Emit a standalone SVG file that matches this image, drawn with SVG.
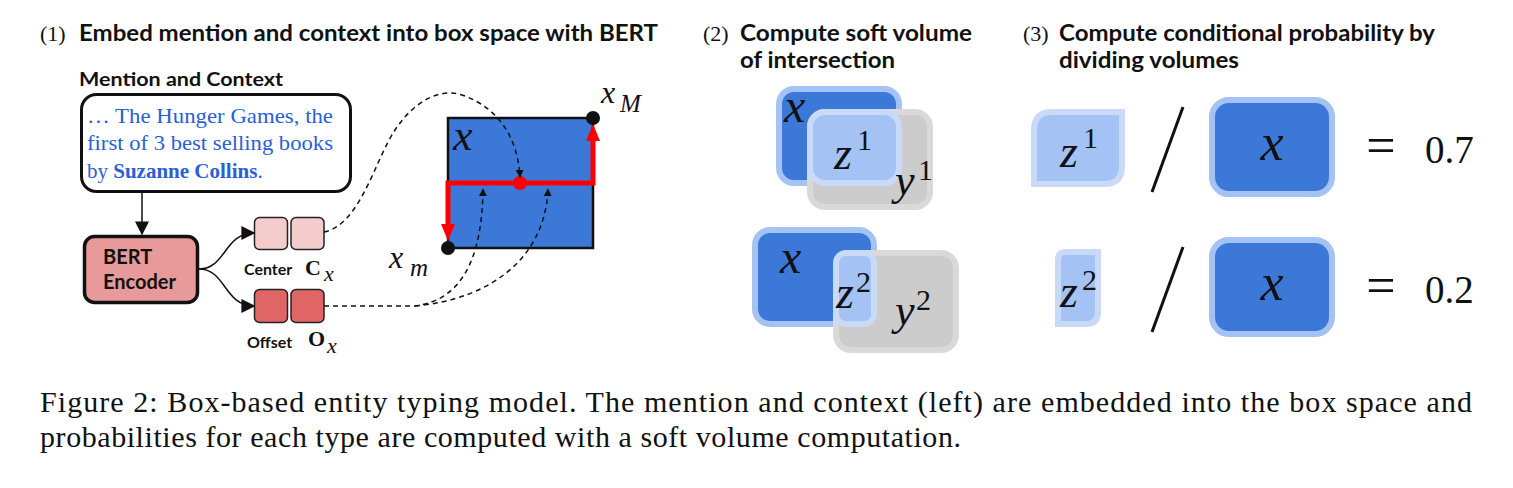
<svg xmlns="http://www.w3.org/2000/svg" width="1513" height="488" viewBox="0 0 1513 488">
<defs>
<style>
.h{font-family:Lato,"Liberation Sans",sans-serif;font-weight:bold;fill:#111}
.num{font-family:"Liberation Serif",serif;fill:#111}
.m{font-family:"Liberation Serif",serif;font-style:italic;fill:#111}
.r{font-family:"Liberation Serif",serif;fill:#111}
.bt{font-family:"Liberation Serif",serif;fill:#2a5fd6;font-size:21px}
.dash{fill:none;stroke:#111;stroke-width:1.5;stroke-dasharray:5,4}
.xb{fill:#3c78d8;stroke:#a4c2f4;stroke-width:6}
.yb{fill:#cccccc;stroke:#d9d9d9;stroke-width:6}
.zb{fill:#a4c2f4;stroke:#c9daf8;stroke-width:6}
.cap{font-family:"Liberation Serif",serif;font-size:30px;fill:#111}
</style>
<marker id="ah" viewBox="0 0 10 10" refX="9" refY="5" markerWidth="8" markerHeight="8" markerUnits="userSpaceOnUse" orient="auto"><path d="M0,0 L10,5 L0,10 Z" fill="#111"/></marker>
<marker id="ahb" viewBox="0 0 10 10" refX="9" refY="5" markerWidth="14" markerHeight="14" markerUnits="userSpaceOnUse" orient="auto"><path d="M0,0 L10,5 L0,10 Z" fill="#111"/></marker>
</defs>
<rect width="1513" height="488" fill="#fff"/>

<g id="titles">
<text class="num" x="40" y="41" font-size="22">(1)</text>
<text class="h" x="79" y="41" font-size="22" textLength="579" lengthAdjust="spacingAndGlyphs">Embed mention and context into box space with BERT</text>
<text class="num" x="703" y="41" font-size="22">(2)</text>
<text class="h" x="740" y="41" font-size="22" textLength="232" lengthAdjust="spacingAndGlyphs">Compute soft volume</text>
<text class="h" x="740" y="68" font-size="22" textLength="155" lengthAdjust="spacingAndGlyphs">of intersection</text>
<text class="num" x="1023" y="41" font-size="22">(3)</text>
<text class="h" x="1059" y="41" font-size="22" textLength="376" lengthAdjust="spacingAndGlyphs">Compute conditional probability by</text>
<text class="h" x="1059" y="68" font-size="22" textLength="180" lengthAdjust="spacingAndGlyphs">dividing volumes</text>
</g>

<g id="context">
<text class="h" x="79" y="86" font-size="19" textLength="204" lengthAdjust="spacingAndGlyphs">Mention and Context</text>
<rect x="81.5" y="94.5" width="269" height="97" rx="15" fill="#fff" stroke="#111" stroke-width="3"/>
<text class="bt" x="87" y="123" textLength="246" lengthAdjust="spacingAndGlyphs">… The Hunger Games, the</text>
<text class="bt" x="87" y="150" textLength="246" lengthAdjust="spacingAndGlyphs">first of 3 best selling books</text>
<text class="bt" x="87" y="178">by <tspan font-weight="bold">Suzanne Collins</tspan>.</text>
</g>

<g id="bert">
<rect x="84.5" y="236.5" width="113" height="66" rx="10" fill="#e89a9a" stroke="#111" stroke-width="3.5"/>
<text class="h" x="103" y="264" font-size="20">BERT</text>
<text class="h" x="103" y="289" font-size="20">Encoder</text>
</g>

<g id="center">
<rect x="254.5" y="217.5" width="33" height="32" rx="5" fill="#f4cccc" stroke="#222" stroke-width="1.5"/>
<rect x="291" y="217.5" width="33" height="32" rx="5" fill="#f4cccc" stroke="#222" stroke-width="1.5"/>
<text class="h" x="244" y="275" font-size="16">Center</text>
<text class="r" x="305" y="275" font-size="22" font-weight="bold">C</text>
<text class="m" x="324" y="281" font-size="22">x</text>
</g>

<g id="offset">
<rect x="254.5" y="289.5" width="33" height="33" rx="5" fill="#e06666" stroke="#222" stroke-width="1.5"/>
<text class="h" x="247" y="348" font-size="16">Offset</text>
<rect x="291" y="289.5" width="33" height="33" rx="5" fill="#e06666" stroke="#222" stroke-width="1.5"/>
<text class="r" x="308" y="346" font-size="22" font-weight="bold">O</text>
<text class="m" x="327" y="353" font-size="22">x</text>
</g>

<g id="boxspace">
<rect x="448" y="118" width="145" height="130" fill="#3c78d8" stroke="#111" stroke-width="2.5"/>
<text class="m" x="453" y="150" font-size="44">x</text>
<path d="M448,226 L448,183 L593,183 L593,138" fill="none" stroke="#ff0000" stroke-width="5"/>
<polygon points="441,224 455,224 448,241" fill="#ff0000"/>
<polygon points="586,141 600,141 593,124" fill="#ff0000"/>
<circle cx="520" cy="183" r="7" fill="#ff0000"/>
<circle cx="448" cy="248" r="7" fill="#111"/>
<circle cx="593" cy="118" r="7" fill="#111"/>
<text class="m" x="601" y="103" font-size="32">x</text>
<text class="m" x="620" y="112" font-size="25">M</text>
<text class="m" x="389" y="268" font-size="32">x</text>
<text class="m" x="410" y="276" font-size="25">m</text>
</g>

<g id="connectors">
<line x1="142" y1="193" x2="142" y2="234" stroke="#111" stroke-width="1.5" marker-end="url(#ahb)"/>
<path d="M199,269 C226,269 224,233 254,233" fill="none" stroke="#111" stroke-width="1.5" marker-end="url(#ahb)"/>
<path d="M199,269 C226,269 224,306 254,306" fill="none" stroke="#111" stroke-width="1.5" marker-end="url(#ahb)"/>
<path class="dash" d="M324,232 C360,225 375,160 395,130 C415,100 440,88 462,95 C500,108 518,140 520,177" marker-end="url(#ah)"/>
<path class="dash" d="M324,306 L415,306 C460,300 482,262 483,189" marker-end="url(#ah)"/>
<path class="dash" d="M415,306 C485,300 545,262 548,189" marker-end="url(#ah)"/>
</g>

<g id="intersect1">
<rect class="xb" x="779" y="89" width="120" height="94" rx="15"/>
<rect class="yb" x="810" y="112" width="120" height="95" rx="15"/>
<rect class="zb" x="810" y="112" width="89" height="71" rx="15"/>
<text class="m" x="784" y="122" font-size="48">x</text>
<text class="m" x="834" y="169" font-size="46">z</text>
<text class="r" x="857" y="150" font-size="30">1</text>
<text class="m" x="895" y="195" font-size="44">y</text>
<text class="r" x="918" y="180" font-size="30">1</text>
</g>

<g id="intersect2">
<rect class="xb" x="755" y="230" width="119" height="94" rx="15"/>
<rect class="yb" x="836" y="253" width="120" height="97" rx="15"/>
<rect class="zb" x="836" y="253" width="38" height="71" rx="10"/>
<text class="m" x="780" y="273" font-size="48">x</text>
<text class="m" x="836" y="308" font-size="46">z</text>
<text class="r" x="856" y="292" font-size="30">2</text>
<text class="m" x="895" y="325" font-size="44">y</text>
<text class="r" x="916" y="310" font-size="30">2</text>
</g>

<g id="ratio1">
<path class="zb" d="M1034,184 L1034,130 Q1034,112 1052,112 L1122,112 L1122,166 Q1122,184 1104,184 Z"/>
<text class="m" x="1060" y="167" font-size="46">z</text>
<text class="r" x="1083" y="148" font-size="30">1</text>
<line x1="1152" y1="192" x2="1183" y2="107" stroke="#111" stroke-width="3"/>
<rect class="xb" x="1212" y="100" width="120" height="94" rx="17"/>
<text class="m" x="1272" y="160" font-size="52" text-anchor="middle">x</text>
<text class="r" x="1381" y="163" font-size="52" text-anchor="middle">=</text>
<text class="r" x="1425" y="163" font-size="39">0.7</text>
</g>

<g id="ratio2">
<path class="zb" d="M1058,324 L1058,260 Q1058,252 1066,252 L1098,252 L1098,312 Q1098,324 1086,324 Z"/>
<text class="m" x="1060" y="307" font-size="46">z</text>
<text class="r" x="1082" y="290" font-size="30">2</text>
<line x1="1152" y1="332" x2="1183" y2="247" stroke="#111" stroke-width="3"/>
<rect class="xb" x="1212" y="240" width="120" height="94" rx="17"/>
<text class="m" x="1272" y="300" font-size="52" text-anchor="middle">x</text>
<text class="r" x="1381" y="303" font-size="52" text-anchor="middle">=</text>
<text class="r" x="1425" y="303" font-size="39">0.2</text>
</g>

<g id="caption">
<text class="cap" x="40" y="412" textLength="1432" lengthAdjust="spacing">Figure 2: Box-based entity typing model. The mention and context (left) are embedded into the box space and</text>
<text class="cap" x="40" y="447" textLength="921" lengthAdjust="spacing">probabilities for each type are computed with a soft volume computation.</text>
</g>
</svg>
